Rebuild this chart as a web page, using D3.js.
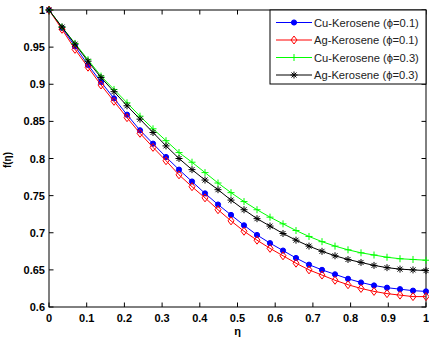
<!DOCTYPE html>
<html>
<head>
<meta charset="utf-8">
<script src="https://cdn.jsdelivr.net/npm/d3@7"></script>
<style>
  html, body { margin: 0; padding: 0; background: #fff; }
  svg { display: block; }
  .tick-label { font-family: "Liberation Sans", Arial, sans-serif; font-weight: bold; font-size: 11px; }
  .legend-text { font-family: "Liberation Sans", Arial, sans-serif; font-size: 11.2px; fill: #222; }
</style>
</head>
<body>
<svg id="chart" width="429" height="338"></svg>
<script>
// ── Data ──────────────────────────────────────────────────
const etaCount = 30; // markers at eta = i / 29
const seriesNames = [
  'Cu-Kerosene (\u03d5=0.1)',
  'Ag-Kerosene (\u03d5=0.1)',
  'Cu-Kerosene (\u03d5=0.3)',
  'Ag-Kerosene (\u03d5=0.3)'
];
const cuPhi01 = [1, 0.976, 0.951, 0.926, 0.903, 0.881, 0.859, 0.838, 0.820, 0.802,
  0.785, 0.769, 0.753, 0.738, 0.724, 0.710, 0.697, 0.686, 0.676, 0.666,
  0.657, 0.650, 0.644, 0.638, 0.633, 0.629, 0.626, 0.624, 0.622, 0.621];
const agPhi01 = [1, 0.974, 0.947, 0.923, 0.899, 0.877, 0.855, 0.834, 0.815, 0.797,
  0.778, 0.762, 0.747, 0.731, 0.716, 0.702, 0.690, 0.679, 0.669, 0.659,
  0.650, 0.643, 0.636, 0.630, 0.625, 0.621, 0.618, 0.616, 0.614, 0.614];
const cuPhi03 = [1, 0.977, 0.955, 0.933, 0.911, 0.893, 0.875, 0.857, 0.840, 0.824,
  0.808, 0.795, 0.781, 0.767, 0.754, 0.742, 0.731, 0.721, 0.712, 0.703,
  0.695, 0.688, 0.682, 0.677, 0.673, 0.670, 0.667, 0.665, 0.664, 0.663];
const agPhi03 = [1, 0.977, 0.954, 0.931, 0.909, 0.890, 0.871, 0.853, 0.835, 0.817,
  0.800, 0.785, 0.771, 0.758, 0.744, 0.731, 0.719, 0.709, 0.699, 0.690,
  0.682, 0.675, 0.669, 0.664, 0.660, 0.656, 0.653, 0.651, 0.650, 0.649];
const xTicks = [0, 0.1, 0.2, 0.3, 0.4, 0.5, 0.6, 0.7, 0.8, 0.9, 1];
const yTicks = [0.6, 0.65, 0.7, 0.75, 0.8, 0.85, 0.9, 0.95, 1];

const allSeries = [cuPhi01, agPhi01, cuPhi03, agPhi03];
const colors = ['#0000ff', '#ff0000', '#00ff00', '#000000'];
const markerTypes = ['dot', 'diamond', 'plus', 'star'];

// ── Setup ─────────────────────────────────────────────────
const svg = d3.select('#chart');
const mLeft = 49, mRight = 426, mTop = 10, mBottom = 307;

const x = d3.scaleLinear().domain([0, 1]).range([mLeft, mRight]);
const y = d3.scaleLinear().domain([0.6, 1]).range([mBottom, mTop]);

const eta = d3.range(etaCount).map(i => i / (etaCount - 1));

// ── Axes box + ticks ──────────────────────────────────────
const tickLen = 4.5;
const axes = svg.append('g');

axes.selectAll('.xt').data(xTicks).enter().append('line')
  .attr('x1', d => x(d)).attr('x2', d => x(d))
  .attr('y1', mBottom).attr('y2', mBottom - tickLen)
  .attr('stroke', '#000');
axes.selectAll('.xtt').data(xTicks).enter().append('line')
  .attr('x1', d => x(d)).attr('x2', d => x(d))
  .attr('y1', mTop).attr('y2', mTop + tickLen)
  .attr('stroke', '#000');
axes.selectAll('.yt').data(yTicks).enter().append('line')
  .attr('x1', mLeft).attr('x2', mLeft + tickLen)
  .attr('y1', d => y(d)).attr('y2', d => y(d))
  .attr('stroke', '#000');
axes.selectAll('.ytr').data(yTicks).enter().append('line')
  .attr('x1', mRight).attr('x2', mRight - tickLen)
  .attr('y1', d => y(d)).attr('y2', d => y(d))
  .attr('stroke', '#000');

axes.append('rect')
  .attr('x', mLeft).attr('y', mTop)
  .attr('width', mRight - mLeft).attr('height', mBottom - mTop)
  .attr('fill', 'none').attr('stroke', '#000').attr('stroke-width', 1);

const fmt = d => String(+d.toFixed(2));

axes.selectAll('.xl').data(xTicks).enter().append('text')
  .attr('class', 'tick-label')
  .attr('x', d => x(d)).attr('y', mBottom + 15)
  .attr('text-anchor', 'middle')
  .text(fmt);
axes.selectAll('.yl').data(yTicks).enter().append('text')
  .attr('class', 'tick-label')
  .attr('x', mLeft - 4).attr('y', d => y(d) + 4)
  .attr('text-anchor', 'end')
  .text(fmt);

// axis titles
svg.append('text')
  .attr('class', 'tick-label')
  .attr('x', (mLeft + mRight) / 2).attr('y', 335)
  .attr('text-anchor', 'middle')
  .text('\u03b7');
svg.append('text')
  .attr('class', 'tick-label')
  .attr('transform', 'translate(11,160) rotate(-90)')
  .attr('text-anchor', 'middle')
  .style('font-size', '10px')
  .text('f(\u03b7)');

// ── Markers ───────────────────────────────────────────────
function drawMarker(g, type, color, cx, cy) {
  if (type === 'dot') {
    g.append('circle').attr('cx', cx).attr('cy', cy).attr('r', 2.6)
      .attr('fill', color).attr('stroke', color);
  } else if (type === 'diamond') {
    g.append('path')
      .attr('d', `M${cx},${cy - 4}L${cx + 3},${cy}L${cx},${cy + 4}L${cx - 3},${cy}Z`)
      .attr('fill', 'none').attr('stroke', color);
  } else if (type === 'plus') {
    g.append('path')
      .attr('d', `M${cx - 3.5},${cy}H${cx + 3.5}M${cx},${cy - 3.5}V${cy + 3.5}`)
      .attr('stroke', color);
  } else if (type === 'star') {
    const r = 3.5, rd = 2.5;
    g.append('path')
      .attr('d', `M${cx - r},${cy}H${cx + r}M${cx},${cy - r}V${cy + r}` +
        `M${cx - rd},${cy - rd}L${cx + rd},${cy + rd}M${cx - rd},${cy + rd}L${cx + rd},${cy - rd}`)
      .attr('stroke', color);
  }
}

// ── Lines ─────────────────────────────────────────────────
const line = d3.line().x((d, i) => x(eta[i])).y(d => y(d));
const plot = svg.append('g');

allSeries.forEach((vals, si) => {
  const g = plot.append('g');
  g.append('path')
    .datum(vals)
    .attr('d', line)
    .attr('fill', 'none')
    .attr('stroke', colors[si])
    .attr('stroke-width', 1);
  vals.forEach((v, i) => drawMarker(g, markerTypes[si], colors[si], x(eta[i]), y(v)));
});

// ── Legend ────────────────────────────────────────────────
const leg = svg.append('g');
leg.append('rect')
  .attr('x', 270).attr('y', mTop)
  .attr('width', mRight - 270).attr('height', 74)
  .attr('fill', '#fff').attr('stroke', '#000');

seriesNames.forEach((name, si) => {
  const ly = 22.5 + si * 17.5;
  leg.append('line')
    .attr('x1', 276).attr('x2', 312)
    .attr('y1', ly).attr('y2', ly)
    .attr('stroke', colors[si]);
  drawMarker(leg, markerTypes[si], colors[si], 294, ly);
  leg.append('text')
    .attr('class', 'legend-text')
    .attr('x', 314).attr('y', ly + 4)
    .text(name);
});
</script>
</body>
</html>
